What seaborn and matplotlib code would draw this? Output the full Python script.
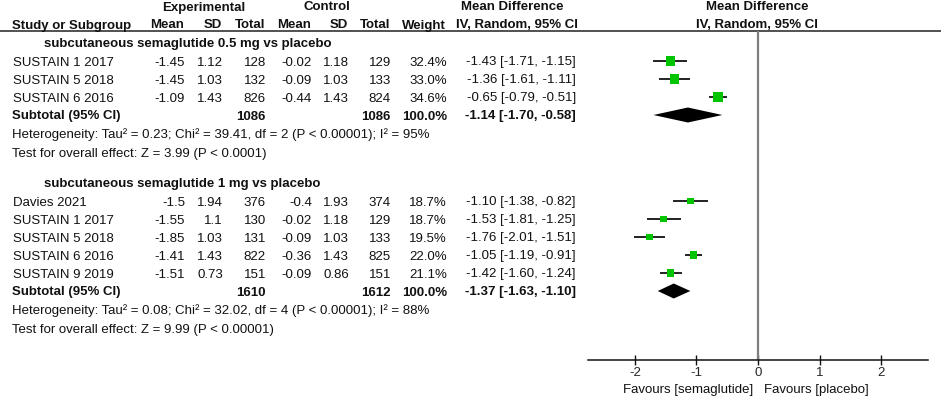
import pandas as pd
import seaborn as sns
import matplotlib.pyplot as plt

sns.set_theme(style="white")
plt.rcParams['font.family'] = ['Liberation Sans', 'DejaVu Sans']
plt.rcParams['axes.unicode_minus'] = False

# --- data: subgroup 1 (0.5 mg) ---
g1_title = "subcutaneous semaglutide 0.5 mg vs placebo"
g1_studies = ["SUSTAIN 1 2017", "SUSTAIN 5 2018", "SUSTAIN 6 2016"]
g1_exp_mean = [-1.45, -1.45, -1.09]
g1_exp_sd = [1.12, 1.03, 1.43]
g1_exp_n = [128, 132, 826]
g1_ctl_mean = [-0.02, -0.09, -0.44]
g1_ctl_sd = [1.18, 1.03, 1.43]
g1_ctl_n = [129, 133, 824]
g1_weight = [32.4, 33.0, 34.6]
g1_md = [-1.43, -1.36, -0.65]
g1_lo = [-1.71, -1.61, -0.79]
g1_hi = [-1.15, -1.11, -0.51]
g1_sub_n = [1086, 1086]
g1_sub_ci = [-1.14, -1.70, -0.58]
g1_het = "Heterogeneity: Tau² = 0.23; Chi² = 39.41, df = 2 (P < 0.00001); I² = 95%"
g1_test = "Test for overall effect: Z = 3.99 (P < 0.0001)"

# --- data: subgroup 2 (1 mg) ---
g2_title = "subcutaneous semaglutide 1 mg vs placebo"
g2_studies = ["Davies 2021", "SUSTAIN 1 2017", "SUSTAIN 5 2018", "SUSTAIN 6 2016", "SUSTAIN 9 2019"]
g2_exp_mean = [-1.5, -1.55, -1.85, -1.41, -1.51]
g2_exp_sd = [1.94, 1.1, 1.03, 1.43, 0.73]
g2_exp_n = [376, 130, 131, 822, 151]
g2_ctl_mean = [-0.4, -0.02, -0.09, -0.36, -0.09]
g2_ctl_sd = [1.93, 1.18, 1.03, 1.43, 0.86]
g2_ctl_n = [374, 129, 133, 825, 151]
g2_weight = [18.7, 18.7, 19.5, 22.0, 21.1]
g2_md = [-1.10, -1.53, -1.76, -1.05, -1.42]
g2_lo = [-1.38, -1.81, -2.01, -1.19, -1.60]
g2_hi = [-0.82, -1.25, -1.51, -0.91, -1.24]
g2_sub_n = [1610, 1612]
g2_sub_ci = [-1.37, -1.63, -1.10]
g2_het = "Heterogeneity: Tau² = 0.08; Chi² = 32.02, df = 4 (P < 0.00001); I² = 88%"
g2_test = "Test for overall effect: Z = 9.99 (P < 0.00001)"

ticks = [-2, -1, 0, 1, 2]
fav_left = "Favours [semaglutide]"
fav_right = "Favours [placebo]"

groups = [
    dict(title=g1_title, studies=g1_studies, em=g1_exp_mean, esd=g1_exp_sd, en=g1_exp_n,
         cm=g1_ctl_mean, csd=g1_ctl_sd, cn=g1_ctl_n, w=g1_weight, md=g1_md, lo=g1_lo, hi=g1_hi,
         sub_n=g1_sub_n, sub_ci=g1_sub_ci, het=g1_het, test=g1_test),
    dict(title=g2_title, studies=g2_studies, em=g2_exp_mean, esd=g2_exp_sd, en=g2_exp_n,
         cm=g2_ctl_mean, csd=g2_ctl_sd, cn=g2_ctl_n, w=g2_weight, md=g2_md, lo=g2_lo, hi=g2_hi,
         sub_n=g2_sub_n, sub_ci=g2_sub_ci, het=g2_het, test=g2_test),
]

# --- layout (pixels) ---
W, H = 941, 397
FS = 9.55
PITCH = 18
group_top = [43, 183]
col_x = dict(em=185, esd=223, en=266, cm=312, csd=349, cn=391, w=447, ci=576)
plot_x0, plot_x1 = 588, 928
plot_y0, plot_y1 = 31, 360
xlim = 2.764
green = "#00c400"

fig = plt.figure(figsize=(W / 100, H / 100), dpi=100)
ax = fig.add_axes([0, 0, 1, 1])
ax.set_xlim(0, W)
ax.set_ylim(H, 0)
ax.axis("off")

fax = fig.add_axes([plot_x0 / W, (H - plot_y1) / H, (plot_x1 - plot_x0) / W, (plot_y1 - plot_y0) / H])
fax.set_xlim(-xlim, xlim)
fax.set_ylim(plot_y1, plot_y0)
fax.patch.set_alpha(0)


def txt(x, y, s, ha="left", bold=False):
    ax.text(x, y, s, ha=ha, va="center_baseline", fontsize=FS,
            fontweight="bold" if bold else "normal", color="#111111")


# headers
txt(204, 6, "Experimental", ha="center", bold=True)
txt(327, 6, "Control", ha="center", bold=True)
txt(512, 6, "Mean Difference", ha="center", bold=True)
txt(517, 24, "IV, Random, 95% CI", ha="center", bold=True)
txt(757, 6, "Mean Difference", ha="center", bold=True)
txt(757, 24, "IV, Random, 95% CI", ha="center", bold=True)
txt(12, 24, "Study or Subgroup", bold=True)
for key, lab in [("em", "Mean"), ("esd", "SD"), ("en", "Total"), ("cm", "Mean"),
                 ("csd", "SD"), ("cn", "Total"), ("w", "Weight")]:
    txt(col_x[key] - 1, 24, lab, ha="right", bold=True)
ax.plot([0, W], [31, 31], color="#222222", lw=1.1)

rows = []
for g, top in zip(groups, group_top):
    txt(44, top, g["title"], bold=True)
    for i, name in enumerate(g["studies"]):
        y = top + PITCH * (i + 1)
        txt(13, y, name)
        for key in ["em", "esd", "en", "cm", "csd", "cn"]:
            txt(col_x[key], y, str(g[key][i]), ha="right")
        txt(col_x["w"], y, f"{g['w'][i]:.1f}%", ha="right")
        txt(col_x["ci"], y, f"{g['md'][i]:.2f} [{g['lo'][i]:.2f}, {g['hi'][i]:.2f}]", ha="right")
        rows.append(dict(md=g["md"][i], lo=g["lo"][i], hi=g["hi"][i], weight=g["w"][i], y=y))
    ys = top + PITCH * (len(g["studies"]) + 1)
    txt(12, ys, "Subtotal (95% CI)", bold=True)
    txt(col_x["en"], ys, str(g["sub_n"][0]), ha="right", bold=True)
    txt(col_x["cn"], ys, str(g["sub_n"][1]), ha="right", bold=True)
    txt(col_x["w"], ys, "100.0%", ha="right", bold=True)
    m, lo, hi = g["sub_ci"]
    txt(col_x["ci"], ys, f"{m:.2f} [{lo:.2f}, {hi:.2f}]", ha="right", bold=True)
    fax.fill([lo, m, hi, m], [ys, ys - 7.5, ys, ys + 7.5], color="black", lw=0, zorder=3)
    txt(12, ys + PITCH, g["het"])
    txt(12, ys + 2 * PITCH + 1, g["test"])

df = pd.DataFrame(rows)
fax.axvline(0, color="#7f7f7f", lw=1.6, zorder=1)
fax.hlines(df["y"], df["lo"], df["hi"], color="#111111", lw=1.3, zorder=2)
sns.scatterplot(data=df, x="md", y="y", size="weight", sizes=(0, 130), size_norm=(0, 100),
                marker="s", color=green, edgecolor="none", legend=False, ax=fax, zorder=4)

for side in ["top", "left", "right"]:
    fax.spines[side].set_visible(False)
fax.spines["bottom"].set_color("#111111")
fax.spines["bottom"].set_linewidth(1.1)
fax.set_xticks(ticks)
fax.set_xticklabels([str(t) for t in ticks])
fax.tick_params(axis="x", direction="inout", length=7.5, width=1.0, color="#111111",
                labelsize=FS, pad=1.5, bottom=True)
fax.set_yticks([])
fax.set_xlabel("")
fax.set_ylabel("")

txt(753, 389, fav_left, ha="right")
txt(764, 389, fav_right)

fig.savefig("out.png", dpi=100)
